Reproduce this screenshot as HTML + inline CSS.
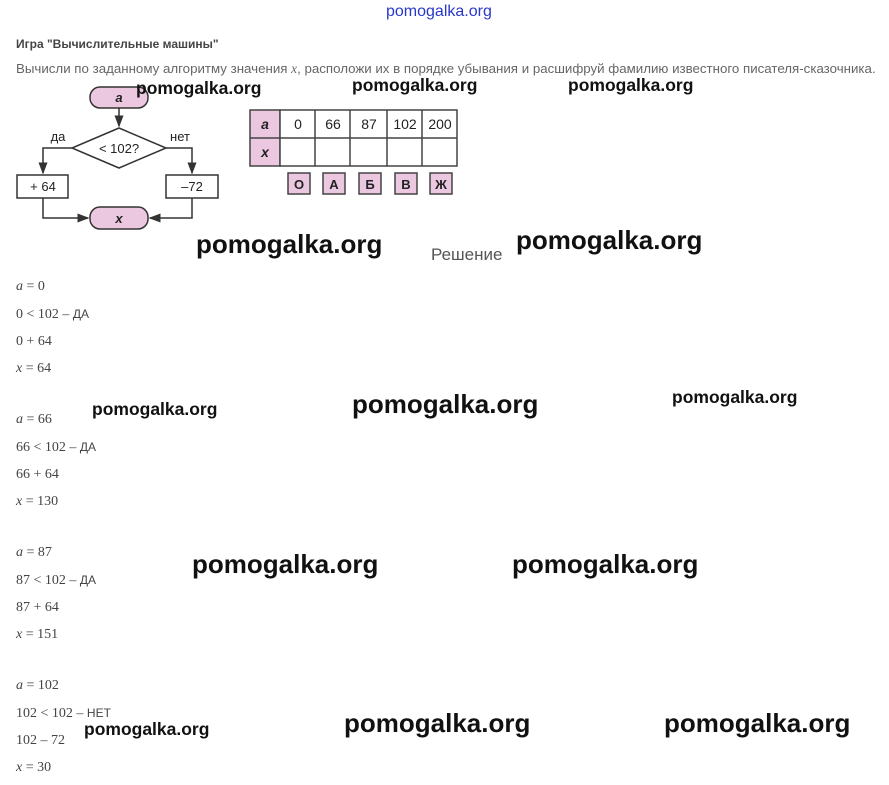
<!DOCTYPE html>
<html><head><meta charset="utf-8"><style>
body{margin:0;width:889px;height:785px;background:#fff;position:relative;overflow:hidden;font-family:"Liberation Sans",sans-serif}
.a{position:absolute;white-space:nowrap}
.wm{position:absolute;white-space:nowrap;color:#111;font-family:"Liberation Sans",sans-serif;font-weight:bold}
.s{font-size:17.5px}.b{font-size:26px}
.m{position:absolute;font-family:"Liberation Serif",serif;font-size:14px;color:#444;white-space:nowrap}
.m i{font-style:italic}
.m span{font-family:"Liberation Sans",sans-serif;font-size:12px}
</style></head><body>
<div class="a" style="left:386px;top:3px;font-size:16px;color:#2838c8">pomogalka.org</div>
<div class="a" style="left:16px;top:37px;font-size:12px;color:#444;font-weight:bold">Игра "Вычислительные машины"</div>
<div class="a" style="left:16px;top:61px;font-size:13.3px;color:#666">Вычисли по заданному алгоритму значения <i style="font-family:'Liberation Serif',serif">x</i>, расположи их в порядке убывания и расшифруй фамилию известного писателя-сказочника.</div>
<svg class="a" style="left:0;top:80px" width="470" height="160" viewBox="0 80 470 160">
<defs><marker id="ar" markerWidth="8" markerHeight="8" refX="7" refY="4" orient="auto"><path d="M0,1 L8,4 L0,7z" fill="#333"/></marker></defs>
<g stroke="#333" stroke-width="1.5" fill="none">
<rect x="90" y="87" width="58" height="21" rx="10" fill="#ecc8e0"/>
<line x1="119" y1="108" x2="119" y2="126" marker-end="url(#ar)"/>
<polygon points="119,128 166,148 119,168 72,148" fill="#fff"/>
<polyline points="72,148 43,148 43,173" marker-end="url(#ar)"/>
<polyline points="166,148 192,148 192,173" marker-end="url(#ar)"/>
<rect x="17" y="175" width="51" height="23" fill="#fff"/>
<rect x="166" y="175" width="52" height="23" fill="#fff"/>
<polyline points="43,198 43,218 88,218" marker-end="url(#ar)"/>
<polyline points="192,198 192,218 150,218" marker-end="url(#ar)"/>
<rect x="90" y="207" width="58" height="22" rx="10" fill="#ecc8e0"/>
</g>
<g font-family="Liberation Sans,sans-serif" font-size="13" fill="#222" text-anchor="middle">
<text x="119" y="102" font-weight="bold" font-style="italic">a</text>
<text x="119" y="153">&lt; 102?</text>
<text x="58" y="141">да</text><text x="180" y="141">нет</text>
<text x="43" y="191">+ 64</text><text x="192" y="191">–72</text>
<text x="119" y="223" font-weight="bold" font-style="italic">x</text>
</g>
<g stroke="#444" stroke-width="1.5">
<rect x="250" y="110" width="30" height="56" fill="#ecc8e0"/>
<rect x="280" y="110" width="177" height="56" fill="#fff"/>
<line x1="250" y1="138" x2="457" y2="138"/>
<line x1="315" y1="110" x2="315" y2="166"/><line x1="350" y1="110" x2="350" y2="166"/>
<line x1="387" y1="110" x2="387" y2="166"/><line x1="422" y1="110" x2="422" y2="166"/>
<g fill="#ecc8e0"><rect x="288" y="173" width="22" height="21"/><rect x="323" y="173" width="22" height="21"/><rect x="359" y="173" width="22" height="21"/><rect x="395" y="173" width="22" height="21"/><rect x="430" y="173" width="22" height="21"/></g>
</g>
<g font-family="Liberation Sans,sans-serif" font-size="14" fill="#222" text-anchor="middle">
<text x="265" y="129" font-weight="bold" font-style="italic">a</text>
<text x="265" y="157" font-weight="bold" font-style="italic">x</text>
<text x="298" y="129">0</text><text x="333" y="129">66</text><text x="369" y="129">87</text><text x="405" y="129">102</text><text x="440" y="129">200</text>
<g font-weight="bold" font-size="13"><text x="299" y="189">О</text><text x="334" y="189">А</text><text x="370" y="189">Б</text><text x="406" y="189">В</text><text x="441" y="189">Ж</text></g>
</g>
</svg>
<div class="a" style="left:431px;top:245px;font-size:17px;color:#555">Решение</div>

<div class="m" style="left:16px;top:279px"><i>a</i> = 0</div>
<div class="m" style="left:16px;top:307px">0 &lt; 102 – <span>ДА</span></div>
<div class="m" style="left:16px;top:334px">0 + 64</div>
<div class="m" style="left:16px;top:361px"><i>x</i> = 64</div>

<div class="m" style="left:16px;top:412px"><i>a</i> = 66</div>
<div class="m" style="left:16px;top:440px">66 &lt; 102 – <span>ДА</span></div>
<div class="m" style="left:16px;top:467px">66 + 64</div>
<div class="m" style="left:16px;top:494px"><i>x</i> = 130</div>

<div class="m" style="left:16px;top:545px"><i>a</i> = 87</div>
<div class="m" style="left:16px;top:573px">87 &lt; 102 – <span>ДА</span></div>
<div class="m" style="left:16px;top:600px">87 + 64</div>
<div class="m" style="left:16px;top:627px"><i>x</i> = 151</div>

<div class="m" style="left:16px;top:678px"><i>a</i> = 102</div>
<div class="m" style="left:16px;top:706px">102 &lt; 102 – <span>НЕТ</span></div>
<div class="m" style="left:16px;top:733px">102 – 72</div>
<div class="m" style="left:16px;top:760px"><i>x</i> = 30</div>

<div class="wm s" style="left:136px;top:78px">pomogalka.org</div>
<div class="wm s" style="left:352px;top:75px">pomogalka.org</div>
<div class="wm s" style="left:568px;top:75px">pomogalka.org</div>
<div class="wm b" style="left:196px;top:229px">pomogalka.org</div>
<div class="wm b" style="left:516px;top:225px">pomogalka.org</div>
<div class="wm s" style="left:92px;top:399px">pomogalka.org</div>
<div class="wm b" style="left:352px;top:389px">pomogalka.org</div>
<div class="wm s" style="left:672px;top:387px">pomogalka.org</div>
<div class="wm b" style="left:192px;top:549px">pomogalka.org</div>
<div class="wm b" style="left:512px;top:549px">pomogalka.org</div>
<div class="wm s" style="left:84px;top:719px">pomogalka.org</div>
<div class="wm b" style="left:344px;top:708px">pomogalka.org</div>
<div class="wm b" style="left:664px;top:708px">pomogalka.org</div>
</body></html>
